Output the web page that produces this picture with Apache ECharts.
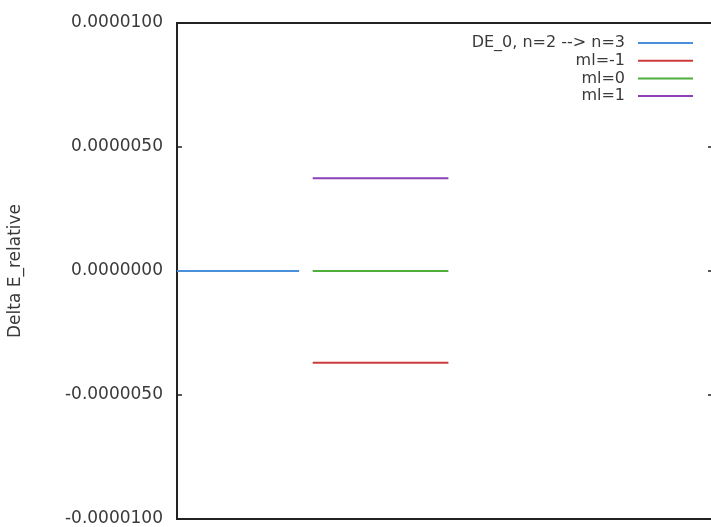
<!DOCTYPE html>
<html>
<head>
<meta charset="utf-8">
<script src="https://cdn.jsdelivr.net/npm/echarts@6/dist/echarts.min.js"></script>
<style>
  html, body { margin: 0; padding: 0; background: #fff; }
  #chart { width: 711px; height: 527px; }
</style>
</head>
<body>
<div id="chart"></div>
<script>
// level segments: [x start, x end] on a hidden x axis, and the energy shift
const seriesNames = ['DE_0, n=2 --> n=3', 'ml=-1', 'ml=0', 'ml=1']
const seriesColors = ['#4a8fd9', '#cc3b3b', '#4fae3c', '#8a40b8']
const segmentX = [[0, 0.9], [1, 2], [1, 2], [1, 2]]
const levelValues = [0, -0.0000037, 0, 0.00000374]
const yTicks = [-0.00001, -0.000005, 0, 0.000005, 0.00001]

const chart = echarts.init(document.getElementById('chart'), null, { renderer: 'canvas' })
const labelFont = { fontFamily: 'DejaVu Sans', color: '#3a3a3a' }

const formatTick = v => (Math.abs(v) < 1e-12 ? 0 : v).toFixed(7)

const yBase = {
  type: 'value',
  min: yTicks[0],
  max: yTicks[yTicks.length - 1],
  interval: yTicks[1] - yTicks[0],
  splitLine: { show: false },
  axisLine: { show: false },
  axisTick: { show: true, inside: true, length: 5, lineStyle: { color: '#222', width: 1.5 } },
}

chart.setOption({
  backgroundColor: '#fff',
  animation: false,
  grid: {
    left: 177, right: -2, top: 23, bottom: 8,
    outerBoundsMode: 'none',
    show: true, borderColor: '#222', borderWidth: 2, backgroundColor: 'transparent',
  },
  legend: {
    orient: 'vertical',
    right: 18,
    top: 35,
    padding: 0,
    align: 'right',
    icon: 'rect',
    itemWidth: 55,
    itemHeight: 2,
    itemGap: 1.7,
    textStyle: Object.assign({ fontSize: 16, lineHeight: 16, padding: [0, 8, 0, 0] }, labelFont),
    data: seriesNames,
  },
  xAxis: {
    type: 'value',
    min: 0,
    max: 3.95,
    axisLine: { show: false },
    axisTick: { show: false },
    axisLabel: { show: false },
    splitLine: { show: false },
  },
  yAxis: [
    Object.assign({}, yBase, {
      position: 'left',
      name: 'Delta E_relative',
      nameLocation: 'middle',
      nameGap: 153,
      nameTextStyle: Object.assign({ fontSize: 17 }, labelFont),
      axisLabel: Object.assign({ fontSize: 17, margin: 14, formatter: formatTick }, labelFont),
    }),
    Object.assign({}, yBase, {
      position: 'right',
      axisLabel: { show: false },
    }),
  ],
  series: seriesNames.map((name, i) => ({
    name,
    type: 'line',
    symbol: 'none',
    color: seriesColors[i],
    lineStyle: { width: 2, color: seriesColors[i] },
    data: segmentX[i].map(x => [x, levelValues[i]]),
  })),
})
</script>
</body>
</html>
